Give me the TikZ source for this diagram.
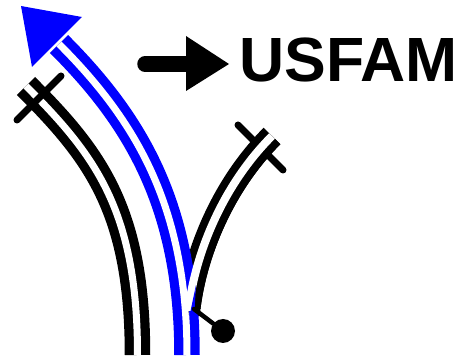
\documentclass[tikz,border=0pt]{standalone}
\usepackage{fontspec}
\setmainfont{Liberation Sans}
\definecolor{routeblue}{RGB}{0,0,255}
\tikzset{
  railouter/.style={line width=25.5pt,line cap=butt},
  railinner/.style={line width=7pt,white,line cap=butt},
  branchouter/.style={line width=23.5pt,line cap=butt},
  branchinner/.style={line width=8pt,white,line cap=butt},
  tick/.style={line width=7pt,line cap=round},
}
\def\leftcurve{(137.5,355) .. controls (137.5,210) and (95,155) .. (26,86)}
\def\bluecurve{(187,355) .. controls (187,205) and (135,120) .. (59,44)}
\def\branchcurve{(188,315) .. controls (193,260) and (220,188) .. (272,136)}
\begin{document}
\begin{tikzpicture}[x=1pt,y=-1pt]
\useasboundingbox (0,0) rectangle (459,358);
% left track
\draw[railouter] \leftcurve;
\draw[railinner] \leftcurve;
\draw[tick] (17,120) -- (61,76);
% right branch
\draw[tick] (238,125) -- (283,170);
\draw[branchouter] \branchcurve;
% blue route
\draw[railouter,routeblue] \bluecurve;
\fill[routeblue] (21,6) -- (82,17) -- (32,67) -- cycle;
\draw[railinner] \bluecurve;
% right rail of the branch passes over the blue rail
\begin{scope}
\clip \branchcurve -- (459,136) -- (459,309) -- (188,309) -- cycle;
\draw[branchouter] \branchcurve;
\end{scope}
\begin{scope}
\clip (0,0) rectangle (459,311);
\draw[branchinner] \branchcurve;
\end{scope}
\fill[routeblue] (196,285) -- (190.5,311) -- (194.5,311) -- cycle;
% switch
\node[circle,fill=black,minimum size=24pt,inner sep=0pt] (ball) at (223,331) {};
\coordinate (st) at (194,309);
\draw[line width=4.5pt,line cap=round] (st) -- (ball);
% legend
\coordinate (as) at (145,64);
\coordinate (ae) at (187,64);
\draw[line width=15.5pt,line cap=round] (as) -- (ae);
\fill (186,36) -- (229,64) -- (186,91) -- cycle;
\node[anchor=base west,inner sep=0pt,font=\bfseries\fontsize{62.5}{62.5}\selectfont] (lbl) at (239,81.5) {USFAM};
\end{tikzpicture}
\end{document}
